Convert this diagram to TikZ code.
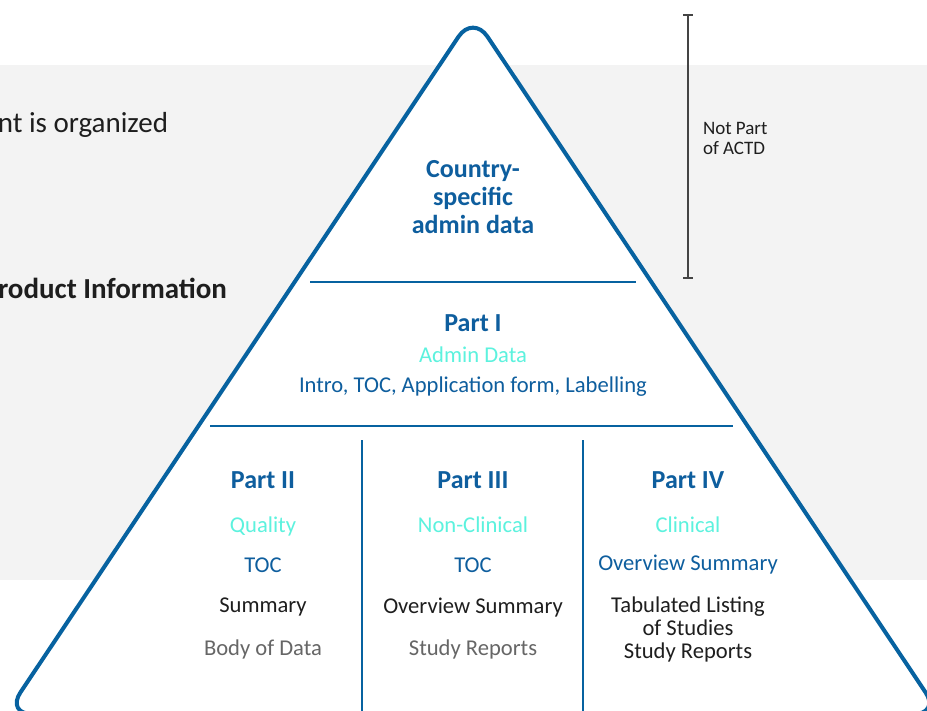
\documentclass[tikz,border=0pt]{standalone}
\usepackage{fontspec}
\setmainfont{Carlito}
\definecolor{band}{HTML}{F3F3F3}
\definecolor{tri}{HTML}{0762A0}
\definecolor{dblue}{HTML}{0E5E9E}
\definecolor{aqua}{HTML}{5CF2DE}
\definecolor{txtgray}{HTML}{666666}
\definecolor{txtblack}{HTML}{1E1E1E}
\definecolor{brk}{HTML}{444444}
\begin{document}
\begin{tikzpicture}[x=1pt,y=-1pt,
  every node/.style={inner sep=0pt, outer sep=0pt},
  big/.style={font=\fontsize{29}{32}\selectfont, text=txtblack},
  headb/.style={font=\bfseries\fontsize{26}{30}\selectfont, text=dblue, anchor=base},
  aq/.style={font=\fontsize{22.6}{26}\selectfont, text=aqua, anchor=base},
  bl/.style={font=\fontsize{22.6}{26}\selectfont, text=dblue, anchor=base},
  bk/.style={font=\fontsize{22.6}{26}\selectfont, text=txtblack, anchor=base},
  gr/.style={font=\fontsize{22.6}{26}\selectfont, text=txtgray, anchor=base},
  divider/.style={draw=tri, line width=1.6pt},
  small/.style={font=\fontsize{19}{22}\selectfont, text=txtblack, anchor=base west}
]
\useasboundingbox (0,0) rectangle (927,711);
\clip (0,0) rectangle (927,711);
\fill[band] (0,65) rectangle (927,580);
\node[big, anchor=base east] (org) at (168,133) {nt is organized};
\node[big, font=\bfseries\fontsize{29}{32}\selectfont, anchor=base east] (prod) at (227,299) {roduct Information};
% pyramid
\coordinate (apex) at (473,15);
\coordinate (bl) at (6,714);
\coordinate (br) at (940,714);
\draw[tri, fill=white, line width=4pt, rounded corners=26pt, line join=round] (apex) -- (br) -- (bl) -- cycle;
% dividers
\coordinate (d1a) at (310,282); \coordinate (d1b) at (636,282);
\coordinate (d2a) at (210,426); \coordinate (d2b) at (733,426);
\coordinate (v1a) at (362,440); \coordinate (v1b) at (362,711);
\coordinate (v2a) at (583,440); \coordinate (v2b) at (583,711);
\draw[divider] (d1a) -- (d1b);
\draw[divider] (d2a) -- (d2b);
\draw[divider] (v1a) -- (v1b);
\draw[divider] (v2a) -- (v2b);
% bracket
\coordinate (bt) at (688,15); \coordinate (bb) at (688,278);
\draw[brk, line width=1.8pt] (bt) -- (bb);
\draw[brk, line width=1.8pt] (683,15) -- (693,15) (683,278) -- (693,278);
\node[small] (np1) at (703,135) {Not Part};
\node[small] (np2) at (703,155) {of ACTD};
% top
\node[headb] (cs1) at (473,178) {Country-};
\node[headb] (cs2) at (473,206) {specific};
\node[headb] (cs3) at (473,234) {admin data};
% Part I
\node[headb] (p1) at (473,332) {Part I};
\node[aq] (p1a) at (473,363) {Admin Data};
\node[bl] (p1b) at (473,393) {Intro, TOC, Application form, Labelling};
% Part II
\node[headb] (p2) at (263,488) {Part II};
\node[aq] (p2a) at (263,532) {Quality};
\node[bl] (p2b) at (263,572) {TOC};
\node[bk] (p2c) at (263,612) {Summary};
\node[gr] (p2d) at (263,655) {Body of Data};
% Part III
\node[headb] (p3) at (473,488) {Part III};
\node[aq] (p3a) at (473,532) {Non-Clinical};
\node[bl] (p3b) at (473,572) {TOC};
\node[bk] (p3c) at (473,613) {Overview Summary};
\node[gr] (p3d) at (473,655) {Study Reports};
% Part IV
\node[headb] (p4) at (688,488) {Part IV};
\node[aq] (p4a) at (688,532) {Clinical};
\node[bl] (p4b) at (688,570) {Overview Summary};
\node[bk] (p4c) at (688,612) {Tabulated Listing};
\node[bk] (p4d) at (688,635) {of Studies};
\node[bk] (p4e) at (688,658) {Study Reports};
\end{tikzpicture}
\end{document}
